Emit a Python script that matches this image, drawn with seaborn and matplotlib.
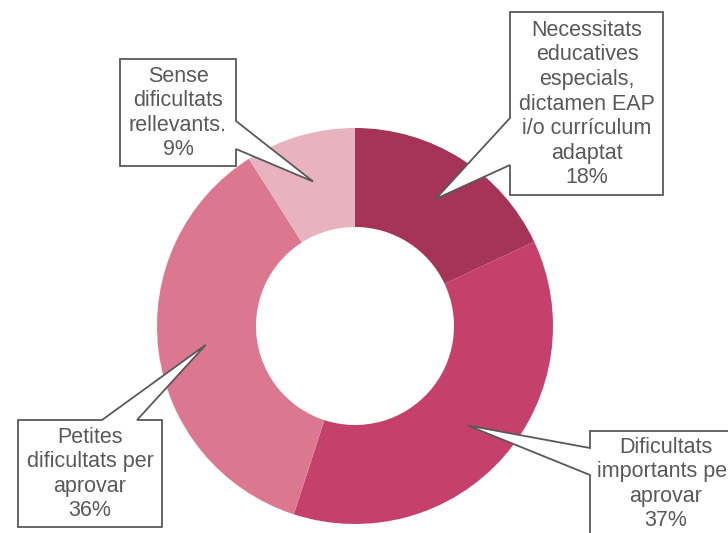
import matplotlib
matplotlib.use("Agg")
import matplotlib.pyplot as plt
import seaborn as sns
import numpy as np
from matplotlib.patches import Polygon

categories = [
    "Necessitats\neducatives\nespecials,\ndictamen EAP\ni/o currículum\nadaptat",
    "Dificultats\nimportants per\naprovar",
    "Petites\ndificultats per\naprovar",
    "Sense\ndificultats\nrellevants.",
]
values = [18, 37, 36, 9]
colors = ["#A63456", "#C5416B", "#DB788F", "#E8B3BF"]

sns.set_theme(style="white")
plt.rcParams['font.family'] = ['Liberation Sans', 'DejaVu Sans']

W, H = 728, 533
fig = plt.figure(figsize=(W / 100, H / 100), dpi=100)
fig.patch.set_facecolor("white")

cx, cy, R = 355, 326, 198
ax = fig.add_axes([(cx - R) / W, (H - cy - R) / H, 2 * R / W, 2 * R / H])
wedges, _ = ax.pie(values, colors=sns.color_palette(colors), startangle=90,
                   counterclock=False, radius=1.0,
                   wedgeprops=dict(width=0.5, edgecolor="none"))
ax.set_xlim(-1, 1)
ax.set_ylim(-1, 1)
ax.set_aspect("equal")
ax.axis("off")

# pointer tips at middle of each slice
tot = sum(values)
tips = []
cum = 0
for v in values:
    mid = np.deg2rad(90 - (cum + v / 2) / tot * 360)
    cum += v
    dx, dy = 0.76 * np.cos(mid), 0.76 * np.sin(mid)
    disp = ax.transData.transform((dx, dy))
    tips.append((disp[0], H - disp[1]))  # to top-left pixel coords

def fig_pts(pts):
    return [(x / W, 1 - y / H) for x, y in pts]

edge = "#595959"
boxes = [
    [(510, 12), (663, 12), (663, 195), (510, 195), (510, 165), tips[0], (510, 118)],
    [(590, 431), (745, 431), (745, 545), (590, 545), (590, 475), tips[1], (590, 448)],
    [(18, 420), (102, 420), tips[2], (137, 420), (162, 420), (162, 527), (18, 527)],
    [(120, 59), (236, 59), (236, 121), tips[3], (236, 149), (236, 166), (120, 166)],
]
text_pos = [(587, 104), (666, 484), (90, 474), (178, 113)]

for pts, (tx, ty), cat, v in zip(boxes, text_pos, categories, values):
    poly = Polygon(fig_pts(pts), closed=True, facecolor="white", edgecolor=edge,
                   linewidth=1.3, transform=fig.transFigure, clip_on=False, zorder=5)
    fig.add_artist(poly)
    fig.text(tx / W, 1 - ty / H, f"{cat}\n{v}%", ha="center", va="center",
             fontsize=15.5, color="#595959", linespacing=1.22, zorder=6)

fig.savefig("out.png", dpi=100)
